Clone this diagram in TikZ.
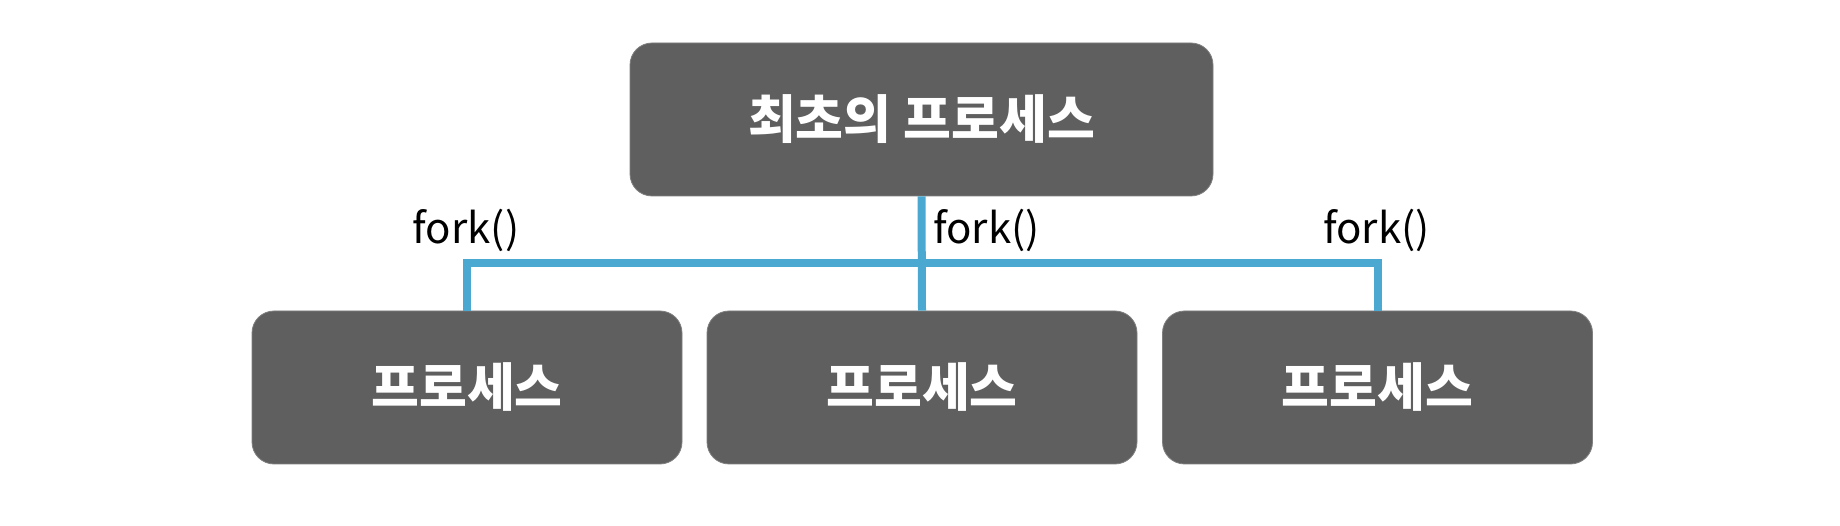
\documentclass[tikz,border=0pt]{standalone}
\usepackage{fontspec}
\setmainfont{Noto Sans CJK KR}
\newfontfamily\krfont{Noto Sans CJK KR}
\definecolor{boxgray}{HTML}{5F5F5F}
\definecolor{linkblue}{HTML}{4BA9D1}
\begin{document}
\begin{tikzpicture}[x=1pt,y=-1pt,
  procbox/.style={fill=boxgray, draw=boxgray!80!white, line width=0.8pt, rounded corners=22pt, text=white,
    font=\krfont\bfseries\fontsize{52}{56}\selectfont, inner sep=0pt, anchor=center},
  forklabel/.style={font=\krfont\fontsize{42}{46}\selectfont, text=black, inner sep=0pt},
  link/.style={draw=linkblue, line width=8pt, line join=miter, line cap=butt}]
\useasboundingbox (0,0) rectangle (1840,526);
\fill[white] (0,0) rectangle (1840,526);
\node[procbox, minimum width=583pt, minimum height=153pt] (top) at (921.5,119.5) {최초의 프로세스};
\node[procbox, minimum width=430pt, minimum height=153pt] (b1) at (467,387.5) {프로세스};
\node[procbox, minimum width=430pt, minimum height=153pt] (b2) at (922,387.5) {프로세스};
\node[procbox, minimum width=430pt, minimum height=153pt] (b3) at (1377.5,387.5) {프로세스};
\coordinate (hl) at (0,263);
\draw[link] (top.south) -- (b2.north);
\draw[link] (b1.north) -- (b1.north |- hl) -- (b3.north |- hl) -- (b3.north);
\node[forklabel] (f1) at (466,230) {fork()};
\node[forklabel, anchor=west] (f2) at (933,230) {fork()};
\node[forklabel] (f3) at (1376.5,230) {fork()};
\end{tikzpicture}
\end{document}
